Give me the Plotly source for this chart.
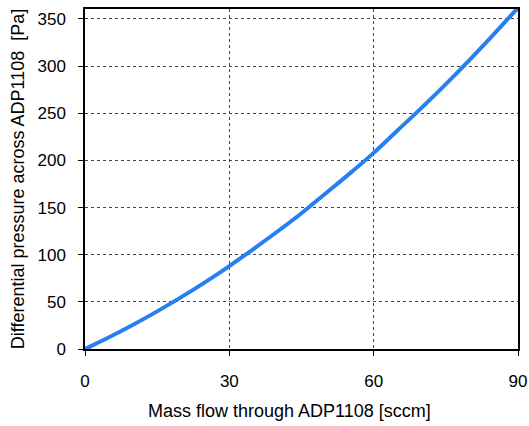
import plotly.graph_objects as go

flow_sccm = [0, 5, 10, 15, 20, 25, 30, 35, 40, 45, 50, 55, 60, 65, 70, 75, 80, 85, 90]
pressure_pa = [0, 12.4, 25.7, 39.9, 55, 71, 88, 106, 124.6, 144, 165, 186, 208, 232, 256, 281, 307, 334, 362]

x_ticks = [0, 30, 60, 90]
y_ticks = [0, 50, 100, 150, 200, 250, 300, 350]

fig = go.Figure()
fig.add_trace(go.Scatter(x=flow_sccm, y=pressure_pa, mode="lines",
                         line=dict(color="rgb(38,128,240)", width=4, shape="spline"),
                         cliponaxis=False, showlegend=False, hoverinfo="skip"))

font = dict(family="Liberation Sans, Arial, sans-serif", size=17, color="black")
W, H = 529, 426
fig.update_layout(
    width=W, height=H,
    margin=dict(l=85, r=11, t=9, b=77),
    paper_bgcolor="white", plot_bgcolor="white",
    font=font,
    annotations=[dict(text="Mass flow through ADP1108 [sccm]", xref="paper", yref="paper",
                      x=(289 - 85) / (W - 85 - 11), y=-(411 - 349) / (H - 9 - 77),
                      xanchor="center", yanchor="middle", showarrow=False,
                      font=dict(size=18))],
)
fig.update_xaxes(
    range=[0, 90], tickvals=x_ticks, ticks="outside", ticklen=5, tickcolor="black",
    showline=True, linecolor="black", linewidth=1.5, mirror=True,
    showgrid=True, gridcolor="#444", griddash="dot", gridwidth=1,
    zeroline=False, ticklabelstandoff=11, automargin=False,
)
fig.update_yaxes(
    range=[0, 360.6], tickvals=y_ticks, ticks="outside", ticklen=5, tickcolor="black",
    showline=True, linecolor="black", linewidth=1.5, mirror=True,
    showgrid=True, gridcolor="#444", griddash="dot", gridwidth=1,
    zeroline=False, ticklabelstandoff=9, automargin=False,
    title=dict(text="Differential pressure across ADP1108  [Pa]", font=dict(size=18), standoff=8),
)
fig.write_html("out.html", config={"displayModeBar": False},
               post_script="document.body.style.margin='0';document.body.style.overflow='hidden';")
